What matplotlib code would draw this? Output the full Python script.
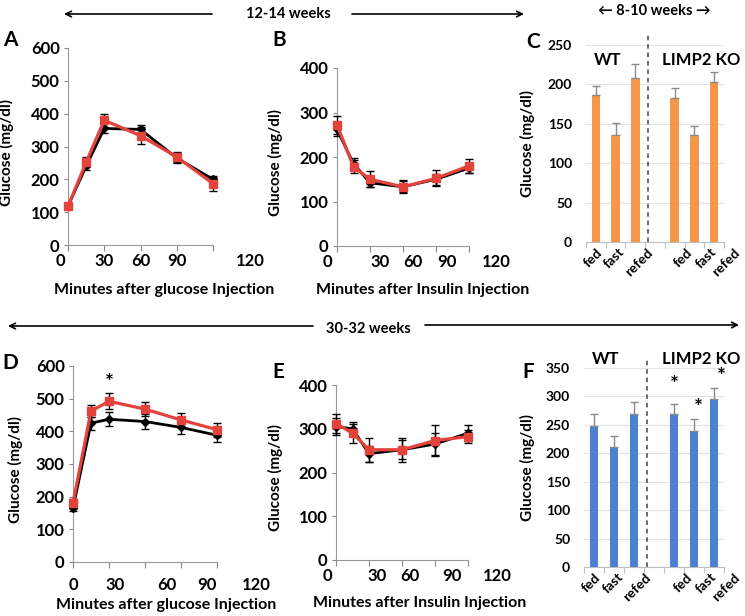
import numpy as np
import matplotlib
matplotlib.use('Agg')
import matplotlib.pyplot as plt
from matplotlib import transforms

plt.rcParams['font.family'] = ['Lato', 'DejaVu Sans']
plt.rcParams['font.weight'] = 'bold'
plt.rcParams['axes.labelweight'] = 'bold'

W, H = 745, 616

# time points (minutes) and axis labels for the tolerance tests
minutes = [0, 15, 30, 60, 90, 120]
minute_labels = ['0', '30', '60', '90', '120']

# A: GTT, 12-14 weeks
gtt12_wt = [118, 240, 355, 352, 265, 200]
gtt12_wt_err = [5, 12, 15, 15, 15, 8]
gtt12_ko = [118, 252, 380, 333, 268, 187]
gtt12_ko_err = [6, 15, 20, 25, 15, 22]

# B: ITT, 12-14 weeks
itt12_wt = [262, 185, 142, 133, 150, 175]
itt12_wt_err = [15, 12, 10, 12, 12, 10]
itt12_ko = [272, 178, 150, 133, 152, 180]
itt12_ko_err = [20, 15, 18, 15, 18, 15]

# D: GTT, 30-32 weeks
gtt30_wt = [165, 425, 437, 430, 412, 388]
gtt30_wt_err = [10, 20, 22, 22, 20, 20]
gtt30_ko = [180, 462, 492, 468, 435, 405]
gtt30_ko_err = [12, 18, 25, 22, 20, 22]

# E: ITT, 30-32 weeks
itt30_wt = [305, 300, 243, 252, 265, 290]
itt30_wt_err = [20, 15, 18, 22, 25, 18]
itt30_ko = [312, 290, 252, 252, 273, 282]
itt30_ko_err = [22, 22, 28, 28, 35, 15]

# C / F: fed - fast - refed
states = ['fed', 'fast', 'refed']
young_wt = [186, 136, 208]
young_wt_err = [12, 15, 18]
young_ko = [183, 136, 203]
young_ko_err = [13, 11, 13]
old_wt = [248, 211, 269]
old_wt_err = [21, 20, 22]
old_ko = [269, 239, 295]
old_ko_err = [18, 21, 20]

fig = plt.figure(figsize=(W / 100, H / 100), dpi=100)

ov = fig.add_axes([0, 0, 1, 1])
ov.set_xlim(0, W)
ov.set_ylim(H, 0)
ov.axis('off')


def px_axes(l, t, r, b):
    return fig.add_axes([l / W, 1 - b / H, (r - l) / W, (b - t) / H])


def line_panel(box, wt, wt_err, ko, ko_err, ymax, label_x, label_dy, ylab_x):
    ax = px_axes(*box)
    ax.errorbar(minutes, wt, yerr=wt_err, color='black', lw=2, marker='D', ms=4.5,
                ecolor='black', elinewidth=1, capsize=3, clip_on=False, zorder=3)
    ax.errorbar(minutes, ko, yerr=ko_err, color='#e4433d', lw=2.3, marker='s', ms=5.5,
                ecolor='black', elinewidth=1, capsize=3, clip_on=False, zorder=4)
    ax.set_xlim(0, 120)
    ax.set_ylim(0, ymax)
    ax.set_yticks(np.arange(0, ymax + 1, 100))
    ax.set_xticks([0, 30, 60, 90, 120])
    ax.set_xticklabels([])
    ax.tick_params(axis='y', labelsize=12, length=3, color='#888888', pad=3)
    ax.tick_params(axis='x', length=4, color='#888888')
    for s in ['top', 'right']:
        ax.spines[s].set_visible(False)
    for s in ['left', 'bottom']:
        ax.spines[s].set_color('#999999')
    ax.set_ylabel('Glucose (mg/dl)', fontsize=11)
    ax.yaxis.set_label_coords(ylab_x, 0.47)
    hpx = box[3] - box[1]
    tr = transforms.blended_transform_factory(ax.transData, ax.transAxes)
    for x, lab in zip(label_x, minute_labels):
        ax.text(x, -label_dy / hpx, lab, transform=tr, ha='center', va='center',
                fontsize=12, clip_on=False)
    return ax


def bar_panel(box, wt, wt_err, ko, ko_err, color, ymax, head_y, ylab_x):
    ax = px_axes(*box)
    pos = [0, 1, 2, 4, 5, 6]
    vals = wt + ko
    errs = wt_err + ko_err
    ax.bar(pos, vals, width=0.44, color=color, zorder=2)
    ax.errorbar(pos, vals, yerr=[np.zeros(len(errs)), errs], fmt='none',
                ecolor='#8a8a8a', elinewidth=1, capsize=3, zorder=3)
    ax.set_xlim(-0.5, 6.5)
    ax.set_ylim(0, ymax)
    ax.set_yticks(np.arange(0, ymax + 1, 50))
    ax.yaxis.grid(True, color='#e3e3e3', lw=0.8)
    ax.set_axisbelow(True)
    ax.set_xticks(np.arange(-0.5, 7, 1))
    ax.set_xticklabels([])
    ax.tick_params(axis='y', labelsize=10, length=0, pad=10)
    ax.tick_params(axis='x', length=4, color='#bfbfbf')
    for s in ['top', 'right', 'left']:
        ax.spines[s].set_visible(False)
    ax.spines['bottom'].set_color('#bfbfbf')
    ax.plot([2.63, 2.63], [0, ymax * 1.05], ls=(0, (3, 2.5)), color='#444444', lw=1.1,
            clip_on=False)
    ax.set_ylabel('Glucose (mg/dl)', fontsize=11)
    ax.yaxis.set_label_coords(ylab_x, 0.5)
    tr = transforms.blended_transform_factory(ax.transData, ax.transAxes)
    for x, lab in zip([0.0, 1.15, 2.55, 4.6, 5.8, 7.0], states + states):
        ax.text(x, -0.02, lab, transform=tr, rotation=45, rotation_mode='anchor',
                ha='right', va='top', fontsize=10, clip_on=False)
    ax.text(0.6, head_y, 'WT', ha='center', va='center', fontsize=12, clip_on=False)
    ax.text(5.35, head_y, 'LIMP2 KO', ha='center', va='center', fontsize=12, clip_on=False)
    return ax


line_panel((68, 48, 213, 245), gtt12_wt, gtt12_wt_err, gtt12_ko, gtt12_ko_err, 600,
           [-6, 30, 60, 90, 151], 16, -0.37)
line_panel((337, 68, 469, 246), itt12_wt, itt12_wt_err, itt12_ko, itt12_ko_err, 400,
           [-9, 39, 69, 100, 145], 16, -0.41)
bar_panel((586, 45, 724, 242), young_wt, young_wt_err, young_ko, young_ko_err,
          '#f5974a', 250, 231, -0.37)
axD = line_panel((73, 366, 217, 562), gtt30_wt, gtt30_wt_err, gtt30_ko, gtt30_ko_err, 600,
                 [0, 35, 78, 112, 153], 23, -0.35)
axD.text(30, 547, '*', ha='center', va='center', fontsize=15)
line_panel((336, 385, 468, 560), itt30_wt, itt30_wt_err, itt30_ko, itt30_ko_err, 400,
           [-8, 37, 67, 105, 147], 16, -0.40)
axF = bar_panel((584, 368, 724, 567), old_wt, old_wt_err, old_ko, old_ko_err,
                '#4d80d0', 350, 365, -0.35)
for x, y in zip([4.0, 5.2, 6.35], [320, 280, 335]):
    axF.text(x, y, '*', ha='center', va='center', fontsize=15, clip_on=False)

# panel letters
for lab, x, y in [('A', 10, 40), ('B', 279, 40), ('C', 533, 42),
                  ('D', 10, 363), ('E', 278, 372), ('F', 528, 372)]:
    ov.text(x, y, lab, ha='center', va='center', fontsize=15)

# x axis titles
for lab, x, y in [('Minutes after glucose Injection', 164, 290),
                  ('Minutes after Insulin Injection', 423, 290),
                  ('Minutes after glucose Injection', 166, 605),
                  ('Minutes after Insulin Injection', 420, 603)]:
    ov.text(x, y, lab, ha='center', va='center', fontsize=11.5)

# age brackets
arrow = dict(arrowstyle='->', color='black', lw=1.2, shrinkA=0, shrinkB=0)
ov.annotate('', xy=(64, 14), xytext=(212, 14), arrowprops=arrow)
ov.annotate('', xy=(524, 14), xytext=(352, 14), arrowprops=arrow)
ov.text(288, 14, '12-14 weeks', ha='center', va='center', fontsize=10.5)
ov.text(654, 11, '\u2190 8-10 weeks \u2192', ha='center', va='center', fontsize=10.5)
ov.annotate('', xy=(8, 326), xytext=(313, 326), arrowprops=arrow)
ov.annotate('', xy=(739, 325), xytext=(425, 325), arrowprops=arrow)
ov.text(368, 329, '30-32 weeks', ha='center', va='center', fontsize=10.5)

fig.savefig('out.png', dpi=100)
